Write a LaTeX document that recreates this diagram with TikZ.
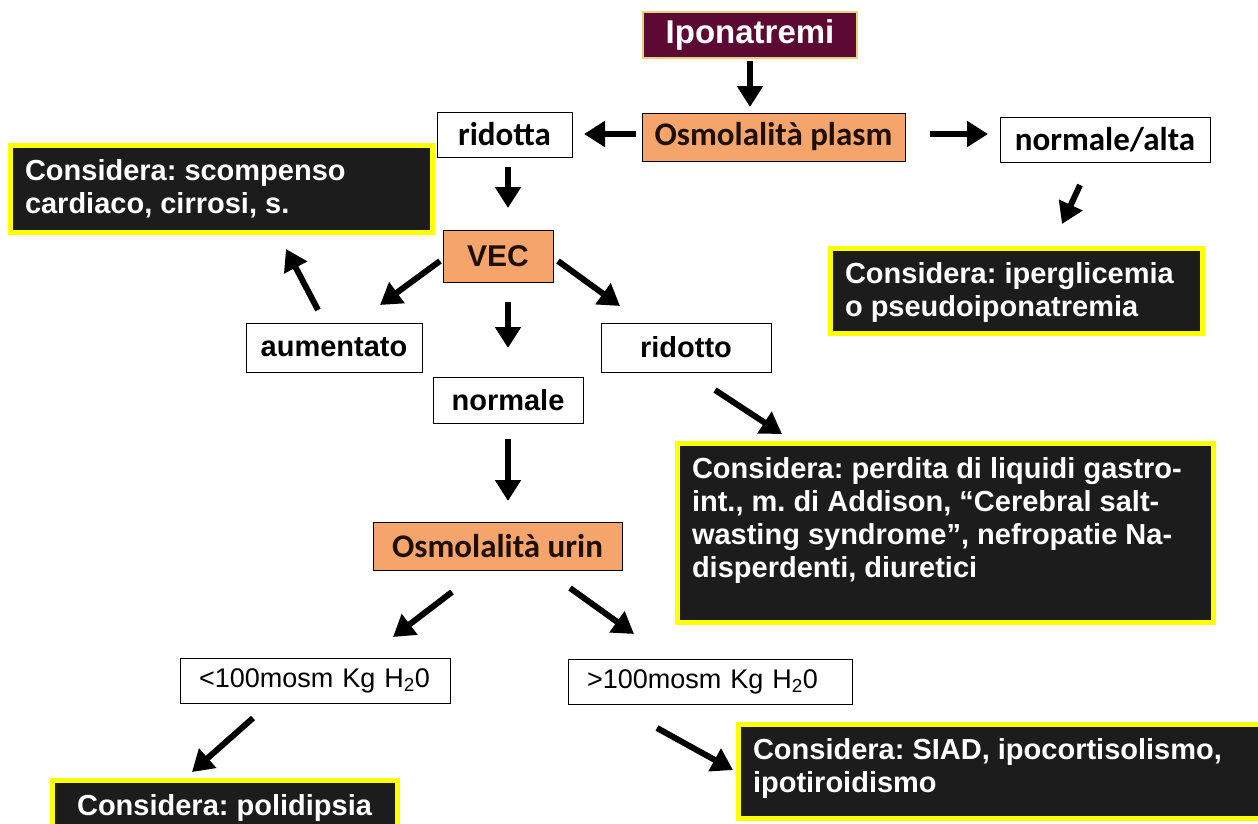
\documentclass[tikz,border=0pt]{standalone}
\usepackage{fontspec}
\setmainfont{Liberation Sans}
\newfontfamily\calib{Carlito}
\usetikzlibrary{arrows.meta}
\definecolor{ipofill}{HTML}{5C0A34}
\definecolor{ipoborder}{HTML}{E6D27A}
\definecolor{orangefill}{HTML}{F5A46C}
\definecolor{orangetext}{HTML}{1E0F05}
\definecolor{boxblack}{HTML}{1C1C1C}
\definecolor{boxyellow}{HTML}{FFFF00}
\newcommand\myfs[2]{\fontsize{#1pt}{#2pt}\selectfont}
\newcommand\cbox[3]{\parbox[c][\dimexpr#2pt-28pt\relax][t]{\dimexpr#1pt-30pt\relax}{\raggedright\hyphenpenalty=10000 #3}}
\tikzset{
  ipostyle/.style={draw=ipoborder, line width=1.5pt, fill=ipofill, text=white, inner sep=0pt, outer sep=0pt, font=\bfseries\myfs{33}{36}},
  orangebox/.style={draw=black, line width=1pt, fill=orangefill, text=orangetext, inner sep=0pt, outer sep=0pt, font=\calib\bfseries\myfs{33}{38}},
  whitecal/.style={draw=black, line width=1pt, fill=white, inner sep=0pt, outer sep=0pt, font=\calib\bfseries\myfs{33}{38}},
  whitearial/.style={draw=black, line width=1pt, fill=white, inner sep=0pt, outer sep=0pt, font=\bfseries\myfs{29}{33}},
  orangearial/.style={draw=black, line width=1pt, fill=orangefill, text=orangetext, inner sep=0pt, outer sep=0pt, font=\bfseries\myfs{30}{34}},
  mosmbox/.style={draw=black, line width=1pt, fill=white, inner ysep=0pt, inner xsep=19pt, outer sep=0pt, align=left, font=\myfs{27}{30}},
  consider/.style={draw=boxyellow, line width=5pt, fill=boxblack, text=white, inner sep=0pt, outer sep=0pt, anchor=north west, font=\bfseries\myfs{29}{33}},
  arr/.style={line width=6pt, draw=black, -{Triangle[width=25pt,length=21pt]}},
}
\frenchspacing
\begin{document}
\frenchspacing
\begin{tikzpicture}[x=1pt,y=-1pt]
\path[use as bounding box, fill=white] (0,0) rectangle (1258,823);
\clip (0,0) rectangle (1258,823);

% top level
\node[ipostyle, minimum width=214pt, minimum height=46pt] (ipo) at (750,35) {Iponatremi};
\node[orangebox, minimum width=263pt, minimum height=48pt] (osmp) at (773.5,137) {Osmolalità plasm};
\node[whitecal, minimum width=135pt, minimum height=45pt] (ridotta) at (504.5,134.5) {ridotta};
\node[whitecal, minimum width=210pt, minimum height=45pt] (normalta) at (1105,139.5) {normale/alta};

% black boxes
\node[consider, minimum width=422pt, minimum height=87pt] (scomp) at (10,145)
  {\cbox{422}{87}{Considera: scompenso\\cardiaco, cirrosi, s.}};
\node[consider, minimum width=372pt, minimum height=85pt] (ipergl) at (830,248)
  {\cbox{372}{85}{Considera: iperglicemia\\o pseudoiponatremia}};
\node[consider, minimum width=536pt, minimum height=179pt] (perdita) at (677,443)
  {\cbox{536}{179}{Considera: perdita di liquidi gastro-\\int., m. di Addison, “Cerebral salt-\\wasting syndrome”, nefropatie Na-\\disperdenti, diuretici}};
\node[consider, minimum width=345pt, minimum height=60pt] (polid) at (52,780)
  {\parbox[c][32pt][t]{315pt}{\centering Considera: polidipsia}};
\node[consider, minimum width=552pt, minimum height=94pt] (siad) at (738,724)
  {\cbox{552}{94}{Considera: SIAD, ipocortisolismo,\\ipotiroidismo}};

% VEC level
\node[orangearial, minimum width=110pt, minimum height=52pt] (vec) at (498,256) {VEC};
\node[whitearial, minimum width=176pt, minimum height=49pt] (aum) at (334,347.5) {aumentato};
\node[whitearial, minimum width=170pt, minimum height=49pt] (ridotto) at (686,347.5) {ridotto};
\node[whitearial, minimum width=150pt, minimum height=46pt] (normale) at (508,400) {normale};

% urine level
\node[orangebox, minimum width=249pt, minimum height=48pt] (urin) at (497.5,546) {Osmolalità urin};
\node[mosmbox, text width=232pt, minimum height=45pt] (lt100) at (315,680.5) {<100mosm Kg H\textsubscript{2}0};
\node[mosmbox, text width=246pt, minimum height=45pt] (gt100) at (710,681.5) {>100mosm Kg H\textsubscript{2}0};

% arrow end points
\coordinate (a1s) at (750,61);   \coordinate (a1e) at (750,107);
\coordinate (a2s) at (636,134);  \coordinate (a2e) at (584,134);
\coordinate (a3s) at (930,134);  \coordinate (a3e) at (988,134);
\coordinate (a4s) at (1080,185); \coordinate (a4e) at (1062,224);
\coordinate (a5s) at (508,167);  \coordinate (a5e) at (508,208);
\coordinate (a6s) at (440,261);  \coordinate (a6e) at (380,305);
\coordinate (a7s) at (508,302);  \coordinate (a7e) at (508,348);
\coordinate (a8s) at (558,261);  \coordinate (a8e) at (620,306);
\coordinate (a9s) at (318,310);  \coordinate (a9e) at (286,249);
\coordinate (a10s) at (715,390); \coordinate (a10e) at (782,434);
\coordinate (a11s) at (508,439); \coordinate (a11e) at (508,501);
\coordinate (a12s) at (452,592); \coordinate (a12e) at (393,637);
\coordinate (a13s) at (570,588); \coordinate (a13e) at (634,634);
\coordinate (a14s) at (253,718); \coordinate (a14e) at (192,772);
\coordinate (a15s) at (657,728); \coordinate (a15e) at (733,770);

\draw[arr] (a1s) -- (a1e);
\draw[arr] (a2s) -- (a2e);
\draw[arr] (a3s) -- (a3e);
\draw[arr] (a4s) -- (a4e);
\draw[arr] (a5s) -- (a5e);
\draw[arr] (a6s) -- (a6e);
\draw[arr] (a7s) -- (a7e);
\draw[arr] (a8s) -- (a8e);
\draw[arr] (a9s) -- (a9e);
\draw[arr] (a10s) -- (a10e);
\draw[arr] (a11s) -- (a11e);
\draw[arr] (a12s) -- (a12e);
\draw[arr] (a13s) -- (a13e);
\draw[arr] (a14s) -- (a14e);
\draw[arr] (a15s) -- (a15e);
\end{tikzpicture}
\end{document}
